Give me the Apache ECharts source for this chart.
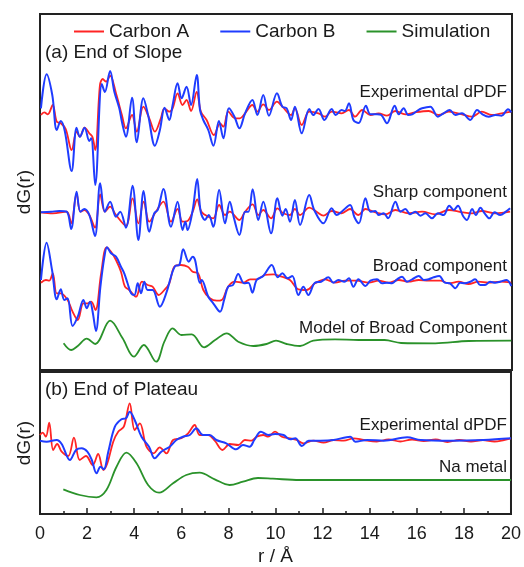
<!DOCTYPE html>
<html><head><meta charset="utf-8">
<script src="https://cdn.jsdelivr.net/npm/echarts@6/dist/echarts.min.js"></script>
<style>html,body{margin:0;padding:0;background:#fff}#c{width:524px;height:567px}</style>
</head><body><div id="c"></div><script>
// x tick labels (r / Å)
const xTickLabels = ['0','2','4','6','8','10','12','14','16','18','20'];
const seriesNames = ['Carbon A','Carbon B','Simulation'];
const curveLabelsA = ['Experimental dPDF','Sharp component','Broad component','Model of Broad Component'];
const curveLabelsB = ['Experimental dPDF','Na metal'];

// (a) End of Slope — experimental dPDF  [r, dG]
const slopeExpA = [[0.04,-3],[0.18,-0.3],[0.33,-2.3],[0.54,7],[0.71,-9.7],[0.88,-11.3],[1.09,-17],[1.34,-38],[1.55,-19.7],[1.69,-24.7],[1.89,-15.7],[2.09,-21.3],[2.22,-24.7],[2.34,-38],[2.54,27],[2.66,33],[2.8,30.3],[2.97,36.3],[3.22,18.7],[3.47,-3],[3.64,-16.3],[3.9,-3],[4.1,-19.7],[4.38,5.3],[4.63,-6.3],[4.87,-19.7],[5.12,-6.3],[5.27,3.7],[5.48,0.3],[5.62,3.7],[5.83,18.7],[6.04,7],[6.21,12],[6.4,1],[6.64,20],[6.82,0.3],[7.06,-8],[7.37,-23],[7.63,-11.3],[7.77,-14.7],[7.98,0.3],[8.26,-6.3],[8.47,-6.3],[8.69,-1.3],[9.0,7],[9.21,0.3],[9.46,7.7],[9.7,2],[10.04,10.3],[10.27,5.3],[10.64,-3],[10.8,3.7],[11.09,-13],[11.41,0.3],[11.8,-1.3],[12.08,-4.7],[12.36,0.3],[12.78,-1.3],[13.09,2],[13.35,-4.7],[13.65,2],[14.0,-3],[14.35,-1.3],[14.7,-3.7],[15.05,1],[15.48,-2.3],[15.9,-0.3],[16.47,1],[16.89,-3],[17.32,0.3],[17.88,-2.3],[18.3,-4.7],[18.72,0.3],[19.15,-3],[19.56,-1.3],[19.97,0.3]];
const slopeExpB = [[0.04,3.7],[0.28,37.7],[0.52,17],[0.71,-18],[0.88,-9],[1.05,-19],[1.34,-59],[1.55,-15.7],[1.69,-24.7],[1.89,-15.7],[2.09,-29],[2.17,-26.3],[2.34,-73],[2.62,28],[2.75,20],[2.97,41],[3.15,20.3],[3.36,3.7],[3.47,-9.7],[3.64,-24.7],[3.9,14.3],[4.1,-30.3],[4.38,13.7],[4.58,-3],[4.87,-33.7],[5.08,-18],[5.28,4.3],[5.48,-8],[5.62,7],[5.83,28.7],[6.0,13.7],[6.21,25.3],[6.4,7],[6.64,37],[6.78,2],[6.92,-8],[7.13,-18],[7.35,-33.7],[7.58,-9],[7.77,-26.3],[8.01,3.7],[8.24,-4.7],[8.45,-16.3],[8.69,-1.3],[9.0,12],[9.21,-3],[9.46,17],[9.7,-3.7],[10.04,18.7],[10.27,5.3],[10.45,3.7],[10.64,-8],[10.8,5.3],[11.09,-21.3],[11.41,3],[11.58,-3],[11.8,3],[12.05,-8],[12.36,3],[12.53,-3],[12.78,2],[12.92,1],[13.09,8.7],[13.28,-8],[13.5,-11],[13.81,6.3],[14.0,-2.3],[14.28,-2.3],[14.46,-3],[14.7,-11.3],[15.03,6.3],[15.2,-2.3],[15.41,3.7],[15.6,-3],[15.77,-2.3],[15.97,1],[16.19,3.7],[16.54,5.3],[16.86,-4.7],[17.1,-1.3],[17.36,2],[17.6,-3],[17.88,-1.3],[18.23,-8],[18.52,2],[18.75,-2.3],[19.01,-4.7],[19.3,-3],[19.56,-3.7],[19.83,2.7],[19.97,-0.3]];

// sharp component
const sharpA = [[0.04,-0.3],[0.54,-1.3],[1.13,0.3],[1.32,-11.3],[1.55,18.7],[1.71,0.3],[1.88,2],[2.09,-3],[2.33,-15.7],[2.55,17.7],[2.75,0.3],[2.97,5.3],[3.22,-3],[3.64,-13.7],[3.92,13.7],[4.17,-11.3],[4.39,10.3],[4.63,-9.7],[4.91,0.3],[5.23,10.3],[5.55,-9.7],[5.83,3],[6.04,-9.7],[6.25,-9],[6.47,0.3],[6.66,12.5],[6.84,0.3],[7.13,-4.7],[7.34,-6.3],[7.59,7],[7.84,-3],[8.04,0.3],[8.45,-8],[8.69,0.3],[9.01,7.7],[9.25,-3],[9.46,2],[9.79,-6.3],[10.06,3.7],[10.31,-1.3],[10.59,-3],[10.8,3],[11.02,-3],[11.41,4.3],[11.72,0.3],[12.01,-3.7],[12.36,1],[12.78,-1.3],[13.14,3],[13.49,-3],[13.79,3],[14.21,-0.3],[14.63,-2.3],[15.06,2],[15.62,-1.3],[16.19,0.3],[16.75,-2.3],[17.32,2],[17.88,-0.3],[18.31,-1.3],[18.72,1],[19.29,-1.3],[19.92,0.3]];
const sharpB = [[0.04,-0.3],[0.47,0.3],[0.82,1],[1.13,0.3],[1.32,-17],[1.55,20.3],[1.71,0.3],[1.88,3],[2.09,-3],[2.33,-24],[2.55,28.7],[2.75,0.3],[2.97,10.3],[3.22,-4.7],[3.4,0.3],[3.64,-15.7],[3.92,26.3],[4.17,-28],[4.39,21],[4.63,-19.7],[4.84,-1.3],[4.99,2],[5.23,23],[5.55,-14.7],[5.83,10.3],[6.04,-18],[6.16,-9.7],[6.25,-18],[6.47,2],[6.66,33],[6.81,0.3],[6.99,-8],[7.15,-3],[7.34,-14.7],[7.59,22],[7.84,-11.3],[8.04,10.3],[8.22,-6.3],[8.45,-23],[8.69,0.3],[8.83,0.3],[9.01,22.7],[9.25,-8],[9.46,10.3],[9.79,-21.3],[10.06,13.7],[10.27,-3.7],[10.41,3],[10.59,-9.7],[10.8,12],[11.02,-13],[11.41,17],[11.62,2],[12.01,-11.3],[12.36,3.7],[12.57,-3],[12.78,0.3],[13.14,7],[13.32,-5],[13.51,-11.3],[13.79,13.7],[14.0,0.3],[14.21,1],[14.35,-3],[14.56,-1.3],[14.75,-6.3],[15.06,10.3],[15.27,0.3],[15.48,3],[15.69,-2.3],[15.9,0.3],[16.12,-3.7],[16.33,-1.3],[16.61,-6.3],[16.86,-1.3],[17.1,-3],[17.34,6.3],[17.53,2],[17.71,6.3],[17.92,-3.7],[18.09,-8],[18.31,3],[18.47,-3],[18.66,4.3],[18.84,-1.3],[19.04,-6.3],[19.26,-0.3],[19.5,-3],[19.74,0.3],[19.92,3.7]];

// broad component
const broadA = [[0.04,0.3],[0.25,3],[0.39,2.3],[0.54,9.7],[0.71,-10.3],[0.88,-10.3],[1.17,-17],[1.38,-28.7],[1.6,-37],[1.84,-20.3],[2.03,-20.3],[2.17,-18.7],[2.35,-27],[2.59,9.7],[2.82,35.7],[3.01,31.3],[3.22,23],[3.43,11.3],[3.6,-3.7],[3.78,-7],[4.07,-13.7],[4.32,1.3],[4.56,-2],[4.77,-3.7],[5.03,-12],[5.27,-7],[5.48,-0.3],[5.69,16.3],[5.97,18],[6.26,16.3],[6.47,11.3],[6.7,9.7],[6.92,-7],[7.2,-15.3],[7.49,-17.7],[7.7,-17],[7.97,-3.7],[8.26,1.3],[8.61,0.3],[8.9,3.7],[9.18,3.7],[9.53,8],[9.89,8.7],[10.24,6.3],[10.59,3],[10.95,-6.3],[11.3,-7],[11.65,-0.3],[12.08,3.7],[12.5,0.3],[12.93,2.3],[13.4,2.3],[13.93,0.3],[14.35,2.3],[14.77,0.3],[15.2,3],[15.62,1.3],[16.05,3],[16.47,2.3],[16.96,2.3],[17.32,-0.3],[17.74,1.3],[18.16,-1],[18.58,1.3],[19.0,0.3],[19.5,1.3],[19.97,0.3]];
const broadB = [[0.04,3],[0.28,40.3],[0.51,13],[0.71,-16.3],[0.88,-6.3],[1.03,-17],[1.17,-15.3],[1.38,-43],[1.6,-33.7],[1.84,-17],[1.98,-25.3],[2.12,-18.7],[2.23,-28.7],[2.37,-48],[2.56,-3.7],[2.73,26.3],[2.84,35.7],[3.01,29.7],[3.22,26.3],[3.43,16.3],[3.57,9.7],[3.71,-0.3],[3.86,-10.3],[4.0,-12],[4.14,-0.3],[4.28,-10.3],[4.42,1.3],[4.56,-7],[4.77,-7],[5.08,-23.7],[5.37,-8.7],[5.55,6.3],[5.73,17],[5.9,18],[6.07,33.7],[6.3,21.3],[6.47,26.3],[6.57,23],[6.78,0],[6.85,3],[7.13,-13.7],[7.34,-20.3],[7.63,-28.7],[7.8,-17],[7.97,-3.7],[8.18,-2],[8.4,9],[8.65,-0.3],[8.83,0.3],[9.0,-9.7],[9.18,3],[9.46,7],[9.82,18],[10.07,5.7],[10.27,9.7],[10.49,4.7],[10.69,7],[10.95,-12],[11.16,-3.7],[11.37,-12],[11.65,0.3],[11.91,1.3],[12.22,5.7],[12.43,0.3],[12.64,3],[12.9,1.3],[13.09,4.7],[13.28,-3.7],[13.49,3.7],[13.79,-3],[14.0,2.3],[14.28,3.7],[14.49,-0.3],[14.7,0.3],[14.92,-0.3],[15.13,3.7],[15.34,6.3],[15.55,1.3],[15.77,3.7],[16.05,7],[16.26,3],[16.47,3.7],[16.68,5.7],[16.92,7],[17.15,0.3],[17.36,-0.3],[17.6,-5.3],[17.8,0.3],[18.0,-0.3],[18.23,1.3],[18.44,3.7],[18.65,-2],[18.86,-2],[19.07,1.3],[19.29,0.3],[19.5,1.3],[19.77,3],[19.97,-3]];

// model of broad component (simulation)
const broadModel = [[1.0,-3.3],[1.32,-10],[1.6,-6],[1.98,1.3],[2.34,-4],[2.97,19.3],[3.5,1.7],[3.98,-16.7],[4.4,-5],[4.92,-21.7],[5.27,-1.7],[5.62,11.7],[5.99,5],[6.43,5.7],[6.95,-7.3],[7.42,0],[7.91,6.7],[8.4,-1.7],[9.04,-6],[9.6,-4],[10.0,-0.7],[10.45,-4],[11.02,-6],[11.58,-0.7],[12.5,0.7],[13.5,0],[14.6,0],[15.3,-3],[16.75,-3.3],[18.16,-1],[19.97,-0.7]];

// (b) End of Plateau
const plateauExpA = [[0.0,6],[0.11,8.3],[0.25,4.3],[0.39,18.3],[0.56,-9],[0.73,-3],[0.92,-10.7],[1.2,-15],[1.44,3.3],[1.69,-19],[1.95,-15],[2.24,-24],[2.47,-13],[2.69,-29],[2.86,-22.3],[3.11,-0.7],[3.32,9.3],[3.56,14.3],[3.81,37.7],[4.02,11],[4.24,17.7],[4.52,-5.7],[4.83,-12.3],[5.08,-6.3],[5.37,-12.3],[5.65,1],[6.0,2.7],[6.29,7.7],[6.57,16],[6.78,6],[7.14,6],[7.42,0.3],[7.75,-9],[8.06,-3],[8.42,-4],[8.7,1],[8.98,0.3],[9.2,4.3],[9.48,6],[9.69,4.3],[9.98,9.3],[10.27,4.3],[10.62,2.7],[10.9,1],[11.19,-2.3],[11.61,0.3],[12.04,-1.7],[12.47,1],[12.9,0.3],[13.32,2.7],[13.75,1],[14.3,-0.5],[14.8,1.5],[15.3,-0.5],[15.8,1.5],[16.3,0],[16.8,1.5],[17.3,-1],[17.8,1],[18.3,-0.5],[18.8,1],[19.3,-0.5],[19.7,1],[20.0,2.7]];
const plateauExpB = [[0.0,0.3],[0.28,-0.7],[0.71,1],[0.92,-3],[1.27,-19],[1.53,-9],[1.77,-7.3],[2.01,-10.7],[2.2,-19],[2.4,-32.3],[2.57,-25.7],[2.71,-28.3],[2.9,-10.7],[3.18,14.3],[3.46,21.7],[3.65,22.7],[3.81,29.3],[4.02,21],[4.31,4.3],[4.63,-5.7],[4.87,-17.3],[5.15,-10.7],[5.51,-5.7],[5.79,1],[6.07,4.3],[6.36,6],[6.64,12.7],[6.92,6],[7.2,6],[7.49,1],[7.91,-2.3],[8.33,-8.3],[8.62,-4],[8.9,-5.7],[9.1,1],[9.38,9.3],[9.69,6],[9.98,7],[10.34,6],[10.62,1.7],[10.84,2.7],[11.12,-5],[11.41,0.3],[11.9,0.3],[12.47,1],[13.18,4.3],[13.39,-0.7],[13.89,1],[14.6,0.3],[15.59,3.7],[16.16,1],[17.43,0.3],[18.84,1],[20.0,2.7]];
const naMetal = [[0.99,-9.3],[1.69,-15],[2.4,-17.3],[2.82,-10],[3.25,13.3],[3.67,27.3],[4.1,16.7],[4.59,-5],[5.06,-12.7],[5.65,-3.3],[6.21,5],[6.78,7.3],[7.42,0.7],[8.05,-5],[8.62,-1.7],[9.25,2],[9.89,1.3],[11.02,0],[12.43,0],[20.0,0]];

// vertical offsets of the stacked curves (arbitrary dG units)
const offsetsA = {exp: 258, sharp: 158, broad: 87, model: 30};
const offsetsB = {exp: 73, model: 34};

const RED = '#ff2424', BLUE = '#1f3cff', GREEN = '#2a922a', INK = '#1a1a1a';
const FONT = 'Liberation Sans, Arial, sans-serif';

function shift(arr, off) { return arr.map(p => [p[0], p[1] + off]); }
function line(name, data, off, color, grid, width) {
  return {
    name: name, type: 'line', xAxisIndex: grid, yAxisIndex: grid,
    data: shift(data, off), showSymbol: false, symbol: 'none', smooth: 0.35,
    lineStyle: {color: color, width: width}, itemStyle: {color: color},
    silent: true, animation: false, z: 3
  };
}

const chart = echarts.init(document.getElementById('c'), null, {renderer: 'canvas'});
const label = (text, x, y, align, size) => ({
  type: 'text', x: x, y: y, silent: true,
  style: {text: text, fill: INK, font: size + 'px ' + FONT, textAlign: align, textVerticalAlign: 'middle'}
});

chart.setOption({
  animation: false,
  backgroundColor: '#fff',
  textStyle: {fontFamily: FONT},
  legend: {
    data: seriesNames, left: 69, top: 17, itemWidth: 30, itemHeight: 2, itemGap: 31, icon: 'rect',
    textStyle: {fontSize: 19, color: INK, fontFamily: FONT}, selectedMode: false
  },
  grid: [
    {left: 40, top: 14, width: 472, height: 356, show: true, borderColor: '#222', borderWidth: 2, backgroundColor: 'transparent'},
    {left: 40, top: 372, width: 472, height: 142, show: true, borderColor: '#222', borderWidth: 2, backgroundColor: 'transparent'}
  ],
  xAxis: [
    {type: 'value', gridIndex: 0, min: 0, max: 20, interval: 2, show: false},
    {type: 'value', gridIndex: 1, min: 0, max: 20, interval: 2,
     name: 'r / Å', nameLocation: 'middle', nameGap: 33,
     nameTextStyle: {fontSize: 19, color: INK, fontFamily: FONT},
     axisLine: {show: true, lineStyle: {color: '#222', width: 2}},
     axisTick: {show: true, inside: true, length: 6, lineStyle: {color: '#222', width: 1.5}},
     minorTick: {show: true, splitNumber: 2, length: 3, lineStyle: {color: '#222', width: 1.5}},
     splitLine: {show: false}, minorSplitLine: {show: false},
     axisLabel: {fontSize: 18, color: INK, margin: 11, fontFamily: FONT,
                 formatter: v => xTickLabels[Math.round(v / 2)]}}
  ],
  yAxis: [
    {type: 'value', gridIndex: 0, min: 0, max: 356, name: 'dG(r)', nameLocation: 'middle', nameGap: 6,
     nameTextStyle: {fontSize: 19, color: INK, fontFamily: FONT},
     axisLine: {show: false}, axisTick: {show: false}, axisLabel: {show: false}, splitLine: {show: false}},
    {type: 'value', gridIndex: 1, min: 0, max: 142, name: 'dG(r)', nameLocation: 'middle', nameGap: 6,
     nameTextStyle: {fontSize: 19, color: INK, fontFamily: FONT},
     axisLine: {show: false}, axisTick: {show: false}, axisLabel: {show: false}, splitLine: {show: false}}
  ],
  graphic: [
    label('(a) End of Slope', 45, 53, 'left', 19),
    label('(b) End of Plateau', 45, 390, 'left', 19),
    label(curveLabelsA[0], 507, 92, 'right', 17),
    label(curveLabelsA[1], 507, 192, 'right', 17),
    label(curveLabelsA[2], 507, 266, 'right', 17),
    label(curveLabelsA[3], 507, 328, 'right', 17),
    label(curveLabelsB[0], 507, 425, 'right', 17),
    label(curveLabelsB[1], 507, 467, 'right', 17)
  ],
  series: [
    line('Carbon A', slopeExpA, offsetsA.exp, RED, 0, 1.8),
    line('Carbon B', slopeExpB, offsetsA.exp, BLUE, 0, 2),
    line('Carbon A', sharpA, offsetsA.sharp, RED, 0, 1.8),
    line('Carbon B', sharpB, offsetsA.sharp, BLUE, 0, 2),
    line('Carbon A', broadA, offsetsA.broad, RED, 0, 1.8),
    line('Carbon B', broadB, offsetsA.broad, BLUE, 0, 2),
    line('Simulation', broadModel, offsetsA.model, GREEN, 0, 1.8),
    line('Carbon A', plateauExpA, offsetsB.exp, RED, 1, 1.8),
    line('Carbon B', plateauExpB, offsetsB.exp, BLUE, 1, 2),
    line('Simulation', naMetal, offsetsB.model, GREEN, 1, 1.8)
  ]
});
</script></body></html>
